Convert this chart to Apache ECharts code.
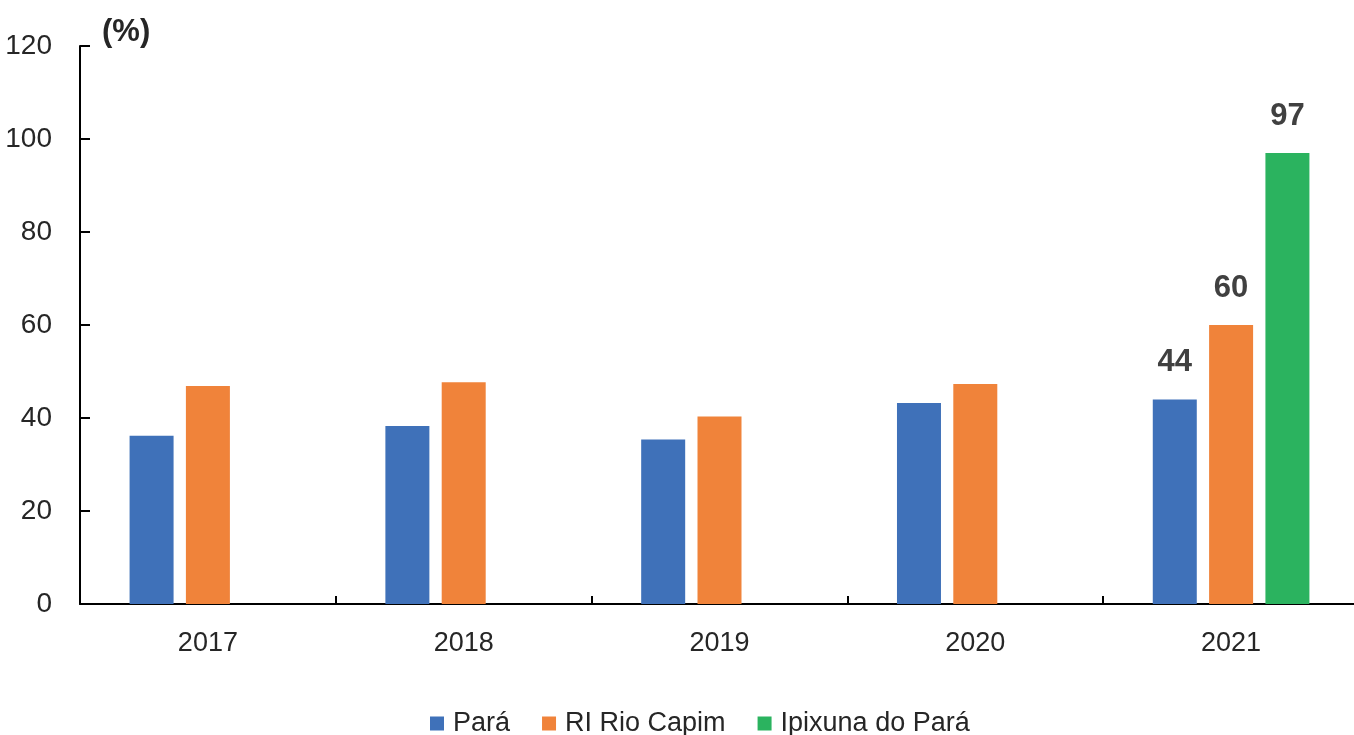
<!DOCTYPE html>
<html>
<head>
<meta charset="utf-8">
<script src="https://cdn.jsdelivr.net/npm/echarts@6/dist/echarts.min.js"></script>
<style>
  html, body { margin: 0; padding: 0; background: #fff; }
  #chart { width: 1354px; height: 735px; }
</style>
</head>
<body>
<div id="chart"></div>
<script>
const years = ["2017", "2018", "2019", "2020", "2021"];
const para = [36.2, 38.3, 35.4, 43.2, 44];
const rioCapim = [46.9, 47.7, 40.3, 47.3, 60];
const ipixuna = [null, null, null, null, 97];
const seriesNames = ["Pará", "RI Rio Capim", "Ipixuna do Pará"];
const yTicks = { min: 0, max: 120, interval: 20 };

const font = "'Liberation Sans Narrow', 'Arial Narrow', 'Liberation Sans', Arial, sans-serif";
const colors = ["#3F71B9", "#F0833A", "#2BB35F"];

// only the 2021 bars carry a value label
function withLabels(arr) {
  return arr.map((v, i) =>
    i === years.length - 1 && v != null ? { value: v, label: { show: true } } : v
  );
}

const myChart = echarts.init(document.getElementById("chart"));
const option = {
  animation: false,
  textStyle: { fontFamily: font },
  title: {
    text: "(%)",
    left: 97,
    top: 12,
    textStyle: { fontFamily: font, fontSize: 31, fontWeight: "bold", color: "#262626" },
  },
  grid: { left: 80, right: -5, top: 46, bottom: 131, outerBoundsMode: "none" },
  legend: {
    data: seriesNames,
    top: 705,
    left: 425,
    itemWidth: 14,
    itemHeight: 14,
    itemGap: 32,
    icon: "rect",
    textStyle: { fontFamily: font, fontSize: 27, color: "#262626", padding: [0, 0, 0, 4] },
  },
  xAxis: {
    type: "category",
    data: years,
    axisLine: { lineStyle: { color: "#000", width: 2 } },
    axisTick: { show: true, inside: true, length: 8, lineStyle: { color: "#000", width: 2 } },
    axisLabel: { fontFamily: font, fontSize: 27, color: "#262626", margin: 26 },
  },
  yAxis: {
    type: "value",
    min: yTicks.min,
    max: yTicks.max,
    interval: yTicks.interval,
    axisLine: { show: true, lineStyle: { color: "#000", width: 2 } },
    axisTick: { show: true, inside: true, length: 10, lineStyle: { color: "#000", width: 2 } },
    axisLabel: { fontFamily: font, fontSize: 28, color: "#262626", margin: 28 },
    splitLine: { show: false },
  },
  series: [para, rioCapim, ipixuna].map((arr, k) => ({
    name: seriesNames[k],
    type: "bar",
    data: withLabels(arr),
    barWidth: 44,
    barGap: "28%",
    itemStyle: { color: colors[k] },
    label: {
      show: false,
      position: "top",
      distance: 21,
      fontFamily: font,
      fontSize: 31,
      fontWeight: "bold",
      color: "#404040",
    },
  })),
};
myChart.setOption(option);
</script>
</body>
</html>
